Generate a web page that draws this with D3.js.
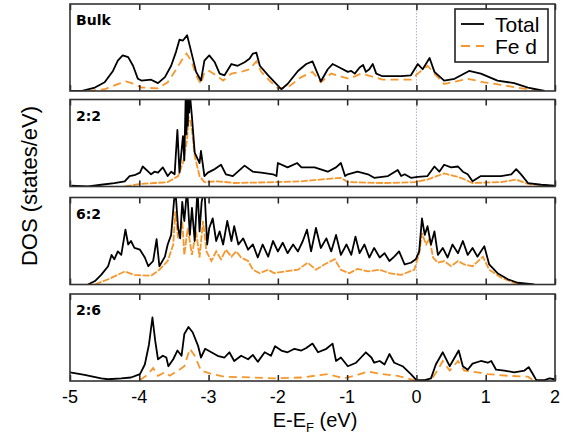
<!DOCTYPE html>
<html>

<head>
    <meta charset="utf-8">
    <title>DOS panels</title>
    <script src="https://d3js.org/d3.v7.min.js"></script>
    <style>
        body { margin: 0; background: #fff; }
        svg { display: block; font-family: "Liberation Sans", Arial, sans-serif; }
    </style>
</head>

<body>
    <div id="chart"></div>

    <script>
        // Panel names and tick labels
        var panelNames = ["Bulk", "2:2", "6:2", "2:6"];
        var xTicks = [-5, -4, -3, -2, -1, 0, 1, 2];

        // DOS curves as [E - EF (eV), DOS in % of panel height]
        var bulkTotal = [[-5, 0], [-4.84, 0], [-4.64, 4], [-4.50, 10], [-4.38, 23], [-4.31, 35], [-4.24, 41], [-4.16, 39], [-4.09, 29], [-4.02, 14], [-3.97, 12], [-3.83, 13], [-3.73, 9], [-3.63, 16], [-3.54, 29], [-3.47, 45], [-3.42, 59], [-3.37, 58], [-3.31, 64], [-3.25, 45], [-3.18, 22], [-3.11, 12], [-3.06, 35], [-2.99, 41], [-2.91, 33], [-2.84, 20], [-2.77, 18], [-2.67, 31], [-2.58, 29], [-2.48, 33], [-2.41, 37], [-2.36, 43], [-2.31, 44], [-2.26, 29], [-2.14, 18], [-2.02, 8], [-1.95, 2], [-1.86, 8], [-1.71, 23], [-1.59, 31], [-1.50, 34], [-1.38, 11], [-1.28, 25], [-1.21, 31], [-1.11, 27], [-0.99, 22], [-0.94, 23], [-0.89, 20], [-0.82, 27], [-0.77, 30], [-0.73, 22], [-0.68, 25], [-0.63, 31], [-0.58, 20], [-0.49, 17], [-0.22, 17], [-0.08, 18], [0.02, 31], [0.09, 25], [0.19, 38], [0.26, 22], [0.40, 12], [0.55, 14], [0.76, 23], [0.93, 20], [1.17, 12], [1.41, 9], [1.61, 4], [1.85, 0]];
        var bulkFeD = [[-4.74, 0], [-4.50, 2], [-4.31, 8], [-4.19, 11], [-4.07, 8], [-3.97, 4], [-3.73, 3], [-3.59, 10], [-3.49, 22], [-3.39, 35], [-3.32, 43], [-3.25, 35], [-3.18, 18], [-3.11, 8], [-3.06, 22], [-2.99, 23], [-2.89, 18], [-2.79, 12], [-2.67, 20], [-2.53, 22], [-2.41, 25], [-2.31, 34], [-2.24, 22], [-2.12, 12], [-2.00, 3], [-1.86, 4], [-1.66, 16], [-1.50, 22], [-1.38, 10], [-1.23, 20], [-1.06, 16], [-0.97, 14], [-0.80, 20], [-0.61, 16], [-0.49, 13], [-0.08, 13], [0.02, 20], [0.16, 29], [0.26, 20], [0.40, 8], [0.74, 14], [0.98, 10], [1.22, 7], [1.61, 2], [1.85, 0]];

        var p22Total = [[-4.98, 1], [-4.74, 0], [-4.55, 2], [-4.36, 4], [-4.21, 6], [-4.14, 12], [-4.07, 13], [-3.99, 16], [-3.95, 23], [-3.87, 17], [-3.83, 14], [-3.78, 17], [-3.73, 16], [-3.66, 22], [-3.59, 12], [-3.54, 17], [-3.49, 14], [-3.45, 65], [-3.42, 16], [-3.37, 58], [-3.35, 30], [-3.33, 105], [-3.32, 60], [-3.31, 110], [-3.30, 70], [-3.29, 110], [-3.28, 85], [-3.27, 110], [-3.26, 98], [-3.24, 80], [-3.20, 39], [-3.13, 27], [-3.11, 41], [-3.06, 12], [-3.01, 16], [-2.91, 20], [-2.82, 25], [-2.75, 14], [-2.65, 12], [-2.48, 24], [-2.36, 17], [-2.24, 16], [-2.07, 14], [-2.02, 12], [-2.00, 27], [-1.86, 22], [-1.72, 27], [-1.66, 22], [-1.47, 22], [-1.28, 17], [-1.16, 22], [-1.09, 27], [-1.03, 12], [-0.99, 14], [-0.85, 17], [-0.70, 14], [-0.61, 10], [-0.41, 12], [-0.27, 19], [-0.22, 12], [-0.17, 14], [-0.08, 10], [0.02, 11], [0.16, 12], [0.26, 23], [0.33, 17], [0.40, 25], [0.50, 22], [0.60, 23], [0.67, 17], [0.74, 14], [0.81, 6], [0.93, 12], [1.22, 12], [1.37, 14], [1.44, 20], [1.51, 14], [1.61, 4], [1.80, 2], [1.99, 1]];
        var p22FeD = [[-4.21, 0], [-3.99, 3], [-3.78, 4], [-3.59, 5], [-3.44, 12], [-3.37, 27], [-3.31, 54], [-3.29, 80], [-3.27, 77], [-3.24, 65], [-3.20, 35], [-3.13, 12], [-3.06, 5], [-2.87, 6], [-2.63, 4], [-2.05, 5], [-1.66, 6], [-1.09, 10], [-0.99, 5], [-0.46, 4], [-0.03, 5], [0.16, 8], [0.40, 15], [0.64, 10], [0.81, 4], [1.22, 5], [1.44, 8], [1.61, 3], [1.89, 1]];

        var p62Total = [[-4.74, 0], [-4.64, 4], [-4.55, 11], [-4.45, 21], [-4.40, 34], [-4.36, 29], [-4.31, 38], [-4.26, 34], [-4.20, 63], [-4.16, 46], [-4.12, 50], [-4.07, 42], [-3.99, 40], [-3.92, 31], [-3.87, 21], [-3.80, 27], [-3.75, 52], [-3.71, 21], [-3.63, 32], [-3.59, 46], [-3.54, 57], [-3.50, 95], [-3.48, 110], [-3.44, 65], [-3.41, 53], [-3.38, 95], [-3.35, 73], [-3.31, 110], [-3.27, 57], [-3.24, 88], [-3.20, 50], [-3.16, 110], [-3.13, 61], [-3.10, 95], [-3.06, 110], [-3.02, 46], [-2.99, 65], [-2.94, 76], [-2.89, 50], [-2.84, 61], [-2.79, 46], [-2.73, 73], [-2.67, 50], [-2.63, 67], [-2.57, 46], [-2.50, 53], [-2.43, 40], [-2.36, 46], [-2.29, 31], [-2.22, 46], [-2.14, 32], [-2.07, 50], [-2.00, 38], [-1.93, 48], [-1.86, 36], [-1.78, 46], [-1.71, 38], [-1.64, 50], [-1.58, 63], [-1.52, 38], [-1.45, 65], [-1.38, 42], [-1.30, 53], [-1.23, 38], [-1.16, 57], [-1.09, 34], [-1.01, 46], [-0.94, 34], [-0.88, 55], [-0.82, 36], [-0.75, 46], [-0.68, 31], [-0.61, 42], [-0.53, 31], [-0.46, 36], [-0.39, 27], [-0.32, 32], [-0.25, 38], [-0.17, 23], [-0.08, 25], [-0.01, 29], [0.04, 38], [0.08, 76], [0.12, 57], [0.16, 67], [0.21, 46], [0.26, 61], [0.31, 34], [0.38, 42], [0.45, 31], [0.52, 46], [0.60, 36], [0.67, 50], [0.74, 34], [0.81, 42], [0.88, 32], [0.98, 44], [1.05, 23], [1.17, 13], [1.32, 6], [1.46, 2], [1.70, 0]];
        var p62FeD = [[-4.64, 0], [-4.45, 6], [-4.21, 15], [-4.07, 11], [-3.83, 10], [-3.71, 17], [-3.59, 27], [-3.51, 46], [-3.48, 84], [-3.44, 53], [-3.38, 73], [-3.35, 34], [-3.30, 65], [-3.24, 34], [-3.18, 61], [-3.13, 31], [-3.08, 73], [-3.03, 38], [-2.96, 27], [-2.89, 38], [-2.82, 29], [-2.75, 40], [-2.67, 32], [-2.60, 38], [-2.53, 31], [-2.43, 27], [-2.36, 17], [-2.26, 13], [-2.14, 17], [-2.05, 13], [-1.90, 15], [-1.71, 17], [-1.57, 25], [-1.45, 17], [-1.33, 23], [-1.18, 29], [-1.09, 17], [-0.97, 13], [-0.85, 18], [-0.70, 15], [-0.53, 17], [-0.39, 13], [-0.22, 11], [-0.03, 17], [0.04, 36], [0.08, 59], [0.14, 46], [0.19, 53], [0.24, 31], [0.31, 25], [0.40, 27], [0.50, 21], [0.60, 27], [0.69, 23], [0.81, 21], [0.96, 32], [1.05, 17], [1.22, 8], [1.41, 2], [1.65, 0]];

        var p26Total = [[-5.00, 10], [-4.79, 7], [-4.55, 3], [-4.45, 2], [-4.26, 3], [-4.12, 4], [-3.99, 8], [-3.92, 19], [-3.86, 42], [-3.81, 73], [-3.77, 46], [-3.73, 25], [-3.66, 29], [-3.61, 27], [-3.58, 17], [-3.51, 25], [-3.45, 35], [-3.39, 29], [-3.35, 54], [-3.29, 62], [-3.23, 56], [-3.15, 40], [-3.11, 27], [-3.05, 37], [-2.96, 33], [-2.87, 29], [-2.77, 27], [-2.70, 33], [-2.63, 23], [-2.53, 29], [-2.43, 25], [-2.36, 30], [-2.29, 22], [-2.19, 33], [-2.10, 29], [-2.04, 40], [-1.95, 35], [-1.86, 33], [-1.76, 37], [-1.66, 35], [-1.59, 38], [-1.50, 43], [-1.42, 33], [-1.30, 37], [-1.21, 43], [-1.16, 23], [-1.09, 27], [-0.99, 17], [-0.87, 21], [-0.80, 27], [-0.73, 33], [-0.65, 27], [-0.61, 21], [-0.53, 23], [-0.46, 19], [-0.39, 31], [-0.32, 21], [-0.20, 17], [-0.08, 8], [0.00, 1], [0.12, 1], [0.21, 3], [0.28, 19], [0.38, 33], [0.48, 17], [0.61, 35], [0.67, 17], [0.74, 13], [0.81, 20], [0.93, 23], [1.03, 21], [1.08, 23], [1.15, 13], [1.27, 12], [1.41, 10], [1.56, 12], [1.62, 16], [1.68, 8], [1.73, 1], [1.85, 1], [1.92, 3], [1.99, 2]];
        var p26FeD = [[-3.99, 1], [-3.87, 8], [-3.80, 15], [-3.73, 6], [-3.63, 10], [-3.56, 6], [-3.44, 12], [-3.35, 17], [-3.27, 37], [-3.20, 29], [-3.11, 12], [-2.96, 8], [-2.77, 5], [-2.38, 4], [-2.05, 3], [-1.66, 4], [-1.28, 8], [-1.04, 3], [-0.85, 7], [-0.70, 11], [-0.51, 8], [-0.27, 6], [-0.08, 2], [0.00, 0], [0.21, 1], [0.31, 13], [0.38, 23], [0.48, 12], [0.60, 23], [0.69, 12], [0.88, 10], [1.03, 8], [1.32, 6], [1.61, 5], [1.70, 0]];

        var totals = [bulkTotal, p22Total, p62Total, p26Total];
        var feDs = [bulkFeD, p22FeD, p62FeD, p26FeD];

        var width = 568, height = 437;
        var left = 70, right = 555;
        var panelTops = [4, 99.5, 197.5, 294];
        var panelH = 87;
        var orange = "#f7962b";

        var svg = d3.select("#chart").append("svg")
            .attr("width", width)
            .attr("height", height);

        var x = d3.scaleLinear().domain([-5, 2]).range([left, right]);

        panelNames.forEach(function (name, i) {
            var top = panelTops[i];
            var y = d3.scaleLinear().domain([0, 100]).range([top + panelH, top]);
            var g = svg.append("g");

            // clip so the clipped peaks stop at the frame
            svg.append("clipPath").attr("id", "clip" + i)
                .append("rect")
                .attr("x", left).attr("y", top)
                .attr("width", right - left).attr("height", panelH);

            // Fermi level marker
            g.append("line")
                .attr("x1", x(0)).attr("x2", x(0))
                .attr("y1", top).attr("y2", top + panelH)
                .attr("stroke", "#b4a6dc")
                .attr("stroke-width", 1)
                .attr("stroke-dasharray", "1.5,1.5");

            var line = d3.line().x(d => x(d[0])).y(d => y(d[1]));

            var plot = g.append("g").attr("clip-path", "url(#clip" + i + ")");
            plot.append("path")
                .datum(feDs[i])
                .attr("fill", "none")
                .attr("stroke", orange)
                .attr("stroke-width", 1.8)
                .attr("stroke-dasharray", (i === 1 || i === 2) ? "7,1.5" : "8,5")
                .attr("d", line);
            plot.append("path")
                .datum(totals[i])
                .attr("fill", "none")
                .attr("stroke", "#000")
                .attr("stroke-width", 1.8)
                .attr("stroke-linejoin", "round")
                .attr("d", line);

            // inner ticks on top and bottom edges
            g.append("g")
                .attr("transform", `translate(0,${top})`)
                .call(d3.axisBottom(x).tickValues(xTicks).tickSize(6).tickFormat(""))
                .call(a => a.select(".domain").remove());
            g.append("g")
                .attr("transform", `translate(0,${top + panelH})`)
                .call(d3.axisTop(x).tickValues(xTicks).tickSize(6).tickFormat(""))
                .call(a => a.select(".domain").remove());
            g.selectAll(".tick line").attr("stroke", "#222").attr("stroke-width", 1.5);

            // frame
            g.append("rect")
                .attr("x", left).attr("y", top)
                .attr("width", right - left).attr("height", panelH)
                .attr("fill", "none")
                .attr("stroke", "#333")
                .attr("stroke-width", 1.6);

            g.append("text")
                .attr("x", 76).attr("y", top + 21)
                .style("font-family", "'DejaVu Sans', sans-serif")
                .style("font-weight", "bold")
                .style("font-size", "14px")
                .text(name);
        });

        // x tick labels under the last panel
        var bottom = panelTops[3] + panelH;
        svg.append("g")
            .selectAll("text")
            .data(xTicks)
            .join("text")
            .attr("x", d => x(d))
            .attr("y", bottom + 22)
            .attr("text-anchor", "middle")
            .style("font-size", "18px")
            .text(d => d);

        // axis titles
        var xt = svg.append("text")
            .attr("x", 315).attr("y", 427)
            .attr("text-anchor", "middle")
            .style("font-size", "20px");
        xt.append("tspan").text("E-E");
        xt.append("tspan").attr("dy", 5).style("font-size", "13px").text("F");
        xt.append("tspan").attr("dy", -5).text(" (eV)");

        svg.append("text")
            .attr("transform", "translate(37,186) rotate(-90)")
            .attr("text-anchor", "middle")
            .style("font-size", "22px")
            .text("DOS (states/eV)");

        // legend
        var lg = svg.append("g");
        lg.append("rect")
            .attr("x", 455).attr("y", 9)
            .attr("width", 93).attr("height", 53)
            .attr("fill", "#fff")
            .attr("stroke", "#222")
            .attr("stroke-width", 1.6);
        lg.append("line")
            .attr("x1", 461).attr("x2", 484).attr("y1", 24).attr("y2", 24)
            .attr("stroke", "#000").attr("stroke-width", 1.8);
        lg.append("line")
            .attr("x1", 461).attr("x2", 484).attr("y1", 46).attr("y2", 46)
            .attr("stroke", orange).attr("stroke-width", 1.8)
            .attr("stroke-dasharray", "9,6");
        lg.append("text").attr("x", 495).attr("y", 32).style("font-size", "21px").text("Total");
        lg.append("text").attr("x", 495).attr("y", 54).style("font-size", "21px").text("Fe d");
    </script>
</body>

</html>
